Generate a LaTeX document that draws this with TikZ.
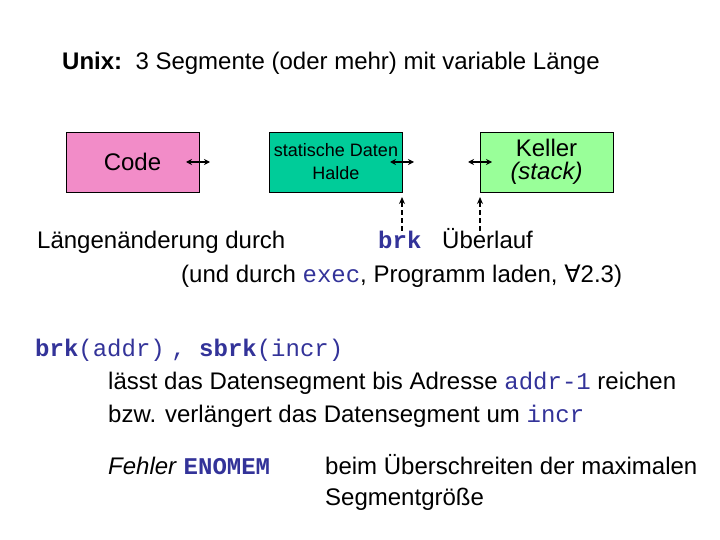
\documentclass[tikz,border=0pt]{standalone}
\usepackage{fontspec}
\setmainfont{Liberation Sans}
\setmonofont{Liberation Mono}
\newfontfamily\symfont{DejaVu Sans}
\usetikzlibrary{arrows.meta}
\definecolor{pinkbox}{RGB}{242,140,200}
\definecolor{tealbox}{RGB}{0,204,153}
\definecolor{lgreen}{RGB}{153,255,153}
\definecolor{codeblue}{RGB}{51,51,153}
\newcommand{\cb}[1]{{\ttfamily\bfseries\color{codeblue}#1}}
\newcommand{\cn}[1]{{\ttfamily\color{codeblue}#1}}
\tikzset{
  seg/.style={draw=black, line width=0.8pt, minimum width=133pt, minimum height=60pt, inner sep=0pt, align=center},
  txt/.style={anchor=base west, inner sep=0pt, font=\fontsize{24}{28}\selectfont},
  dbl/.style={{Stealth[length=6pt,width=6pt]}-{Stealth[length=6pt,width=6pt]}, line width=1.5pt},
  dsh/.style={-{Stealth[length=7pt,width=6pt]}, line width=1.6pt, dash pattern=on 5pt off 3pt}
}
\begin{document}
\begin{tikzpicture}[x=1pt,y=-1pt]
\useasboundingbox (0,0) rectangle (720,540);
% title
\node[txt] (title) at (62,70) {\textbf{Unix:}\ \ 3 Segmente (oder mehr) mit variable Länge};
% segments
\node[seg, fill=pinkbox, font=\fontsize{24}{28}\selectfont] (code) at (132.5,162) {Code};
\node[seg, fill=tealbox, font=\fontsize{18}{23}\selectfont] (data) at (336,162) {statische Daten\\Halde};
\node[seg, fill=lgreen, font=\fontsize{24}{23}\selectfont] (stack) at (546.5,162) {Keller\\\textit{(stack)}};
% double arrows
\coordinate (a1) at (186,162); \coordinate (b1) at (210,162);
\coordinate (a2) at (390,162); \coordinate (b2) at (414,162);
\coordinate (a3) at (468,162); \coordinate (b3) at (492,162);
\draw[dbl] (a1) -- (b1);
\draw[dbl] (a2) -- (b2);
\draw[dbl] (a3) -- (b3);
% text lines
\node[txt] (l1) at (37,248) {Längenänderung durch};
\node[txt] (brk) at (378,248) {\cb{brk}};
\node[txt] (ueb) at (442,248) {Überlauf};
\node[txt] (l2) at (181,282) {(und durch \cn{exec}, Programm laden, {\symfont ∀}2.3)};
% dashed arrows
\coordinate (d1) at (402,231); \coordinate (e1) at (402,197);
\coordinate (d2) at (480,231); \coordinate (e2) at (480,197);
\draw[dsh] (d1) -- (e1);
\draw[dsh] (d2) -- (e2);
% calls
\node[txt] (calls) at (35,356) {\cb{brk}\cn{(addr)}~\cn{,}~~\cb{sbrk}\cn{(incr)}};
\node[txt] (l3) at (108,389) {lässt das Datensegment bis Adresse \cn{addr-1} reichen};
\node[txt] (l4) at (108,422) {bzw. verlängert das Datensegment um~\cn{incr}};
\node[txt] (err) at (108,474) {\textit{Fehler} \cb{ENOMEM}};
\node[txt] (l5) at (325,474) {beim Überschreiten der maximalen};
\node[txt] (l6) at (325,505) {Segmentgröße};
\end{tikzpicture}
\end{document}
